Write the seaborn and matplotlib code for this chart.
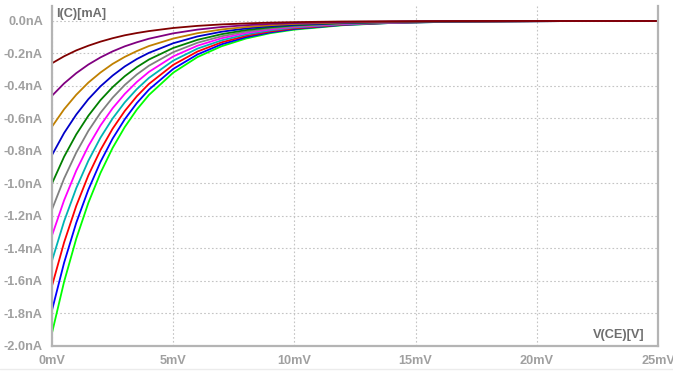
import numpy as np
import pandas as pd
import matplotlib
matplotlib.use("Agg")
import matplotlib.pyplot as plt
import seaborn as sns
from matplotlib.lines import Line2D

# Collector-emitter sweep points (mV)
vce_mv = [0, 0.5, 1, 1.5, 2, 2.5, 3, 3.5, 4, 5, 6, 7, 8, 9, 10, 12, 14, 16, 18, 20, 22.5, 25]

# Collector current traces (nA), one per stepped parameter, top to bottom
ic_1 = [-0.26, -0.217, -0.181, -0.152, -0.127, -0.106, -0.088, -0.074, -0.062, -0.043, -0.030, -0.021, -0.015, -0.010, -0.007, -0.003, -0.002, -0.001, 0.0, 0.0, 0.0, 0.0]
ic_2 = [-0.46, -0.384, -0.321, -0.268, -0.224, -0.187, -0.156, -0.131, -0.109, -0.076, -0.053, -0.037, -0.026, -0.018, -0.013, -0.006, -0.003, -0.001, -0.001, 0.0, 0.0, 0.0]
ic_3 = [-0.65, -0.543, -0.454, -0.379, -0.317, -0.264, -0.221, -0.185, -0.154, -0.108, -0.075, -0.052, -0.037, -0.026, -0.018, -0.009, -0.004, -0.002, -0.001, 0.0, 0.0, 0.0]
ic_4 = [-0.825, -0.689, -0.576, -0.481, -0.402, -0.336, -0.280, -0.234, -0.196, -0.137, -0.095, -0.066, -0.046, -0.032, -0.023, -0.011, -0.005, -0.003, -0.001, -0.001, 0.0, 0.0]
ic_5 = [-1.0, -0.835, -0.698, -0.583, -0.487, -0.407, -0.340, -0.284, -0.237, -0.166, -0.116, -0.081, -0.056, -0.039, -0.027, -0.013, -0.007, -0.003, -0.002, -0.001, 0.0, 0.0]
ic_6 = [-1.16, -0.969, -0.810, -0.676, -0.565, -0.472, -0.394, -0.329, -0.275, -0.192, -0.134, -0.094, -0.065, -0.046, -0.032, -0.015, -0.008, -0.004, -0.002, -0.001, 0.0, 0.0]
ic_7 = [-1.32, -1.103, -0.921, -0.770, -0.643, -0.537, -0.449, -0.375, -0.313, -0.218, -0.152, -0.106, -0.074, -0.052, -0.036, -0.018, -0.009, -0.004, -0.002, -0.001, 0.0, 0.0]
ic_8 = [-1.475, -1.232, -1.029, -0.860, -0.718, -0.600, -0.501, -0.419, -0.350, -0.244, -0.170, -0.119, -0.083, -0.058, -0.040, -0.020, -0.010, -0.005, -0.002, -0.001, 0.0, 0.0]
ic_9 = [-1.63, -1.362, -1.138, -0.950, -0.794, -0.663, -0.554, -0.463, -0.387, -0.270, -0.188, -0.131, -0.092, -0.064, -0.045, -0.022, -0.011, -0.005, -0.003, -0.001, 0.0, 0.0]
ic_10 = [-1.78, -1.487, -1.242, -1.038, -0.867, -0.724, -0.605, -0.505, -0.422, -0.295, -0.206, -0.143, -0.100, -0.070, -0.049, -0.024, -0.012, -0.006, -0.003, -0.001, 0.0, 0.0]
ic_11 = [-1.92, -1.604, -1.340, -1.119, -0.935, -0.781, -0.653, -0.545, -0.455, -0.318, -0.222, -0.155, -0.108, -0.075, -0.053, -0.026, -0.012, -0.006, -0.003, -0.001, 0.0, 0.0]

traces = [ic_1, ic_2, ic_3, ic_4, ic_5, ic_6, ic_7, ic_8, ic_9, ic_10, ic_11]
trace_names = [f"step{i + 1}" for i in range(len(traces))]
trace_colors = ["#800000", "#800080", "#c08000", "#0000c8", "#008000", "#808080",
                "#ff00ff", "#00b4b4", "#ff0000", "#0000ff", "#00ff00"]

x_ticks = [0, 5, 10, 15, 20, 25]
x_tick_labels = ["0mV", "5mV", "10mV", "15mV", "20mV", "25mV"]
y_ticks = [0.0, -0.2, -0.4, -0.6, -0.8, -1.0, -1.2, -1.4, -1.6, -1.8, -2.0]
y_tick_labels = ["0.0nA", "-0.2nA", "-0.4nA", "-0.6nA", "-0.8nA", "-1.0nA",
                 "-1.2nA", "-1.4nA", "-1.6nA", "-1.8nA", "-2.0nA"]

df = pd.concat(
    [pd.DataFrame({"vce": vce_mv, "ic": vals, "trace": name})
     for name, vals in zip(trace_names, traces)],
    ignore_index=True,
)

sns.set_style("white")
plt.rcParams["font.family"] = ["Liberation Sans", "DejaVu Sans"]

fig = plt.figure(figsize=(6.73, 3.74), dpi=100)
ax = fig.add_axes([52 / 673, 1 - 346 / 374, (658 - 52) / 673, (346 - 6) / 374])

# Draw the bottom trace first so the upper ones sit on top in the same order
order = trace_names[::-1]
sns.lineplot(data=df, x="vce", y="ic", hue="trace", hue_order=order,
             palette=dict(zip(trace_names, trace_colors)), linewidth=1.3,
             legend=False, ax=ax, sort=False)

ax.set_xlim(0, 25)
ax.set_ylim(-2.0, 0.0923)
ax.set_xticks(x_ticks)
ax.set_xticklabels(x_tick_labels)
ax.set_yticks(y_ticks)
ax.set_yticklabels(y_tick_labels)
ax.set_xlabel("")
ax.set_ylabel("")

spine_col = "#b4b4b4"
for side in ["left", "bottom", "right"]:
    ax.spines[side].set_visible(True)
    ax.spines[side].set_color(spine_col)
    ax.spines[side].set_linewidth(1.6)
ax.spines["top"].set_visible(False)

ax.grid(True, which="major", color="#c4c4c4", linestyle=(0, (1.5, 2)), linewidth=0.8)
ax.set_axisbelow(True)

ax.tick_params(axis="both", which="major", direction="out", length=5, width=1.2,
               color=spine_col, labelcolor="#a0a0a0", labelsize=9.2, pad=1.5)
ax.tick_params(axis="y", right=False)
for lbl in ax.get_xticklabels() + ax.get_yticklabels():
    lbl.set_fontweight("bold")
for lbl in ax.get_xticklabels():
    lbl.set_clip_on(False)

ax.text(4 / 606, 1 - 8 / 340, "I(C)[mA]", transform=ax.transAxes, ha="left", va="center",
        fontsize=9.2, fontweight="bold", color="#6e6e6e")
ax.text(1 - 13 / 606, 11 / 340, "V(CE)[V]", transform=ax.transAxes, ha="right", va="center",
        fontsize=9.2, fontweight="bold", color="#6e6e6e")

# Faint window edge beneath the tick labels
fig.add_artist(Line2D([0, 1], [1 - 369 / 374] * 2, transform=fig.transFigure,
                      color="#ececec", linewidth=1.0))

fig.savefig("out.png", dpi=100)
